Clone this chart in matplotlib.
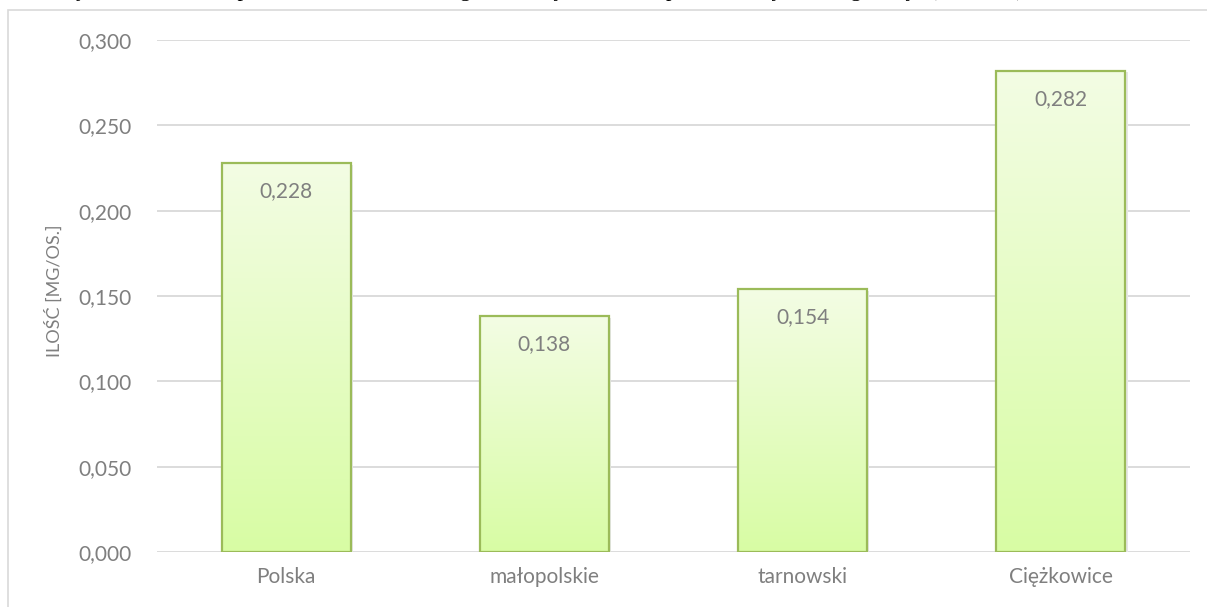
import numpy as np
import matplotlib.pyplot as plt
from matplotlib.patches import Rectangle
from matplotlib.colors import LinearSegmentedColormap

# dane z wykresu
regiony = ['Polska', 'małopolskie', 'tarnowski', 'Ciężkowice']
ilosc = [0.228, 0.138, 0.154, 0.282]
y_ticks = [0.0, 0.05, 0.10, 0.15, 0.20, 0.25, 0.30]

szary = '#7f7f7f'
plt.rcParams['font.family'] = ['Lato', 'DejaVu Sans']

W, H = 1207, 607
fig = plt.figure(figsize=(W / 100, H / 100), dpi=100)

# ramka wykresu (ucięta z prawej i z dołu)
fig.patches.append(Rectangle((8 / W, -0.1), 1.2, (H - 10) / H + 0.1,
                             transform=fig.transFigure, fill=False,
                             edgecolor='#d9d9d9', lw=1.2))

# ucięty podpis nad wykresem
fig.text(62 / W, 1 + 4.4 / H, 'Rysunek 9. Ilość odpadów na mieszkańca w gminie, w jednostkach podziału '
         'terytorialnego kraju (rok 2013)', family='Liberation Serif', fontsize=16,
         va='baseline', ha='left', color='black')

ax = fig.add_axes([157 / W, (H - 552) / H, (1190 - 157) / W, (552 - 40) / H])

for s in ax.spines.values():
    s.set_visible(False)
ax.set_yticks(y_ticks)
ax.set_yticklabels([f'{v:.3f}'.replace('.', ',') for v in y_ticks])
ax.yaxis.grid(True, color='#d9d9d9', lw=1.3)
ax.set_axisbelow(True)
ax.tick_params(axis='y', length=0, pad=18, labelsize=15, labelcolor=szary)
ax.tick_params(axis='x', length=0, pad=11, labelsize=15, labelcolor=szary)

bars = ax.bar(range(len(regiony)), ilosc, width=0.5, color='none',
              edgecolor='#9bbb59', lw=1.6, zorder=3)
ax.set_xticks(range(len(regiony)))
ax.set_xticklabels(regiony)

# gradient w słupkach
grad = np.linspace(0, 1, 256).reshape(-1, 1)
cmap = LinearSegmentedColormap.from_list('g', ['#d8fca4', '#f3fde4'])
for b, v in zip(bars, ilosc):
    x0 = b.get_x()
    # cień
    ax.add_patch(Rectangle((x0 + 0.008, 0), b.get_width(), v - 0.001,
                           facecolor='#e6e6e6', edgecolor='none', zorder=1.5))
    im = ax.imshow(grad, extent=[x0, x0 + b.get_width(), 0, v], origin='lower',
                   cmap=cmap, aspect='auto', zorder=2)
    im.set_clip_path(b)
    ax.annotate(f'{v:.3f}'.replace('.', ','), (b.get_x() + b.get_width() / 2, v),
                xytext=(0, -28), textcoords='offset pixels', ha='center', va='center',
                fontsize=15, color=szary, zorder=4)
ax.set_xlim(-0.5, 3.5)
ax.set_ylim(0, 0.3)

fig.text(54 / W, 1 - 291 / H, 'ILOŚĆ [MG/OS.]', rotation=90, ha='center', va='center',
         fontsize=13, color=szary)

fig.savefig('out.png', dpi=100)
